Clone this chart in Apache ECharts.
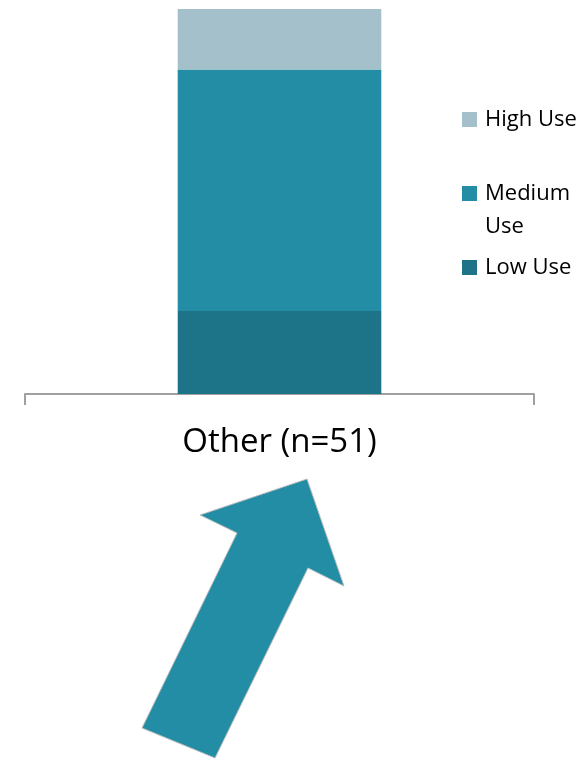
<!DOCTYPE html>
<html>
<head>
<meta charset="utf-8">
<style>
  html, body { margin: 0; padding: 0; background: #fff; }
  #chart { width: 588px; height: 764px; }
</style>
<script src="https://cdn.jsdelivr.net/npm/echarts@6/dist/echarts.min.js"></script>
</head>
<body>
<div id="chart"></div>
<script>
// Category and usage counts (respondents)
const categories = ['Other (n=51)'];
const seriesNames = ['Low Use', 'Medium Use', 'High Use'];
const lowUse = [11];
const mediumUse = [32];
const highUse = [8];
const seriesColors = ['#1D7387', '#238DA5', '#A3C0CB'];
// Legend lists top to bottom; the middle entry wraps onto two lines
const legendOrder = ['High Use', 'Medium Use', 'Low Use'];
const legendLabels = { 'High Use': 'High Use', 'Medium Use': 'Medium\nUse', 'Low Use': 'Low Use' };

const seriesValues = [lowUse, mediumUse, highUse];
const total = lowUse[0] + mediumUse[0] + highUse[0];

const chart = echarts.init(document.getElementById('chart'));

const font = '"Open Sans", "Noto Sans", sans-serif';
const legendLineHeight = 33;

// A wrapped label gets a blank first line so that the swatch, which sits at the
// vertical middle of the text block, lines up with the label's first line.
function legendText(name) {
  const label = legendLabels[name];
  return label.indexOf('\n') >= 0 ? '\n' + label : label;
}

chart.setOption({
  animation: false,
  backgroundColor: '#ffffff',
  grid: { left: 25, right: 54, top: 9, bottom: 370, containLabel: false },
  xAxis: {
    type: 'category',
    data: categories,
    boundaryGap: true,
    axisLine: { show: true, lineStyle: { color: '#A0A0A0', width: 2 } },
    axisTick: { show: true, alignWithLabel: false, length: 11, lineStyle: { color: '#A0A0A0', width: 2 } },
    axisLabel: { color: '#000', fontFamily: font, fontSize: 33, margin: 32 }
  },
  yAxis: {
    type: 'value',
    min: 0,
    max: total,
    show: false,
    splitLine: { show: false }
  },
  legend: {
    orient: 'vertical',
    left: 462,
    top: 103,
    padding: 0,
    itemGap: 8,
    itemWidth: 15,
    itemHeight: 15,
    icon: 'rect',
    selectedMode: false,
    data: legendOrder,
    formatter: legendText,
    textStyle: {
      color: '#000',
      fontFamily: font,
      fontSize: 22,
      lineHeight: legendLineHeight,
      padding: [0, 0, 0, 3]
    }
  },
  series: seriesNames.map((name, i) => ({
    name: name,
    type: 'bar',
    stack: 'use',
    barWidth: '40%',
    itemStyle: { color: seriesColors[i] },
    emphasis: { disabled: true },
    data: seriesValues[i]
  })),
  graphic: [{
    // upward arrow under the category label
    type: 'polygon',
    shape: {
      points: [[307, 479], [344, 586], [308, 568], [215, 758], [142, 728], [237, 533], [200, 515]]
    },
    style: { fill: '#238DA5', stroke: '#BDBDBD', lineWidth: 1 },
    silent: true
  }]
});
</script>
</body>
</html>
